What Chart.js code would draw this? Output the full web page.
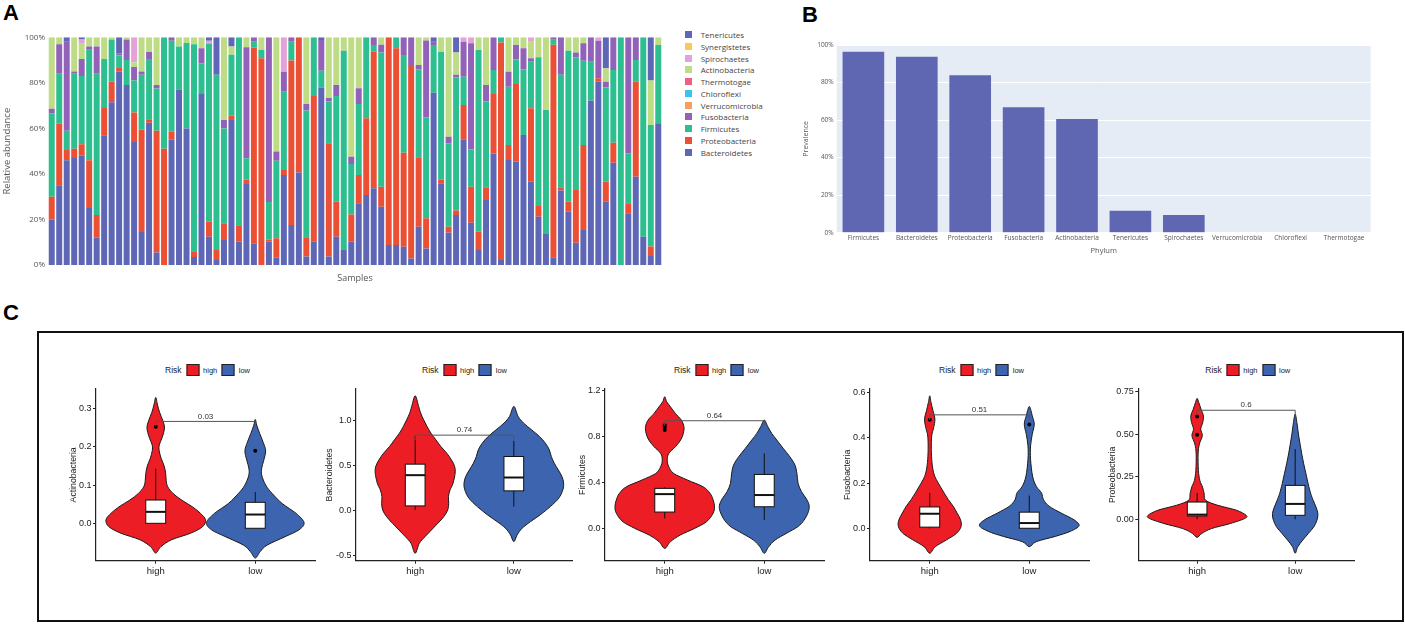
<!DOCTYPE html>
<html>
<head>
<meta charset="utf-8">
<script src="https://cdn.jsdelivr.net/npm/chart.js@4.4.1/dist/chart.umd.min.js"></script>
<style>
  html, body { margin: 0; padding: 0; background: #fff; }
  body { width: 1405px; height: 624px; position: relative; overflow: hidden; font-family: "Liberation Sans", Arial, sans-serif; }
  canvas { position: absolute; }
  .tag { position: absolute; font: bold 22px "Liberation Sans", Arial, sans-serif; line-height: 22px; color: #000; }
  .frame { position: absolute; left: 37px; top: 331px; width: 1367px; height: 291px; border: 2px solid #111; box-sizing: border-box; }
  .lgA { position: absolute; font: 8px "Open Sans", sans-serif; color: #444; white-space: nowrap; display: flex; align-items: center; }
  .lgA i { display: inline-block; width: 7px; height: 7px; margin-right: 9px; }
  .risk { position: absolute; display: flex; align-items: center; transform: translate(-50%, -50%); white-space: nowrap; color: #222; }
  .risk b { font-weight: normal; font-size: 8.5px; margin-right: 4.5px; color: #222; }
  .risk i { display: inline-block; width: 11px; height: 10px; border: 1px solid #222; margin-right: 4px; }
  .risk span { font-size: 7.5px; margin-right: 4.5px; color: #222; }
</style>
</head>
<body>
<div class="tag" style="left:3px;top:2px">A</div>
<div class="tag" style="left:802px;top:4px">B</div>
<div class="tag" style="left:3px;top:302px">C</div>
<div class="frame"></div>
<canvas id="chartA"></canvas>
<canvas id="chartB"></canvas>
<canvas id="c0"></canvas>
<canvas id="c1"></canvas>
<canvas id="c2"></canvas>
<canvas id="c3"></canvas>
<canvas id="c4"></canvas>
<script>
// ---- panel A: relative abundance per sample (%) ----
const bacteroidetes = [20,35,46,47,48,25,12,57,71.5,85,79,54,14.5,62.5,5.5,0,55,77,60,3.5,75.4,12.4,2.2,11,63.7,10.2,35.6,9.5,0,10.2,3.2,39.5,17.6,40.6,3.7,10.2,78,3.7,12.4,6.6,10.2,27.1,30.7,33.7,25.6,8.8,8.8,8,2.9,16.8,7.3,75.7,35.9,14.3,22,55.2,18.6,6.6,28.6,49,2.2,46.1,45.4,57.1,36.6,21.2,13.6,3.4,32.7,23.4,9.8,15.4,72.2,80.5,27.8,44.9,0,22.7,38.8,12.4,4,62.2];
const proteobacteria = [10,27,4.5,4,5,21,10,12,9,1.5,0,13,45,1.5,53.5,51,3.5,0,0,2.5,0,6.6,4.4,7.3,1.8,7.3,1.8,86,90.8,1,8.5,2.2,72.2,59.4,8.5,64,0,49.8,15.4,0,12,12.4,33.7,60,8.8,91.2,86.4,41.3,84.9,30.5,13.2,0,1.5,2.5,1.9,15.1,15.8,8,5.6,26.1,95.5,6.6,34.1,0,32.2,4.7,0,93.3,1.5,4.4,23.1,37.3,0,1.5,8.8,8.8,0,4.4,41.7,0,4.1,0];
const firmicutes = [36.6,22,8.5,33,30,48.5,62,21.5,18.5,5.5,11,14,24,26.5,18.5,49,40,19,37.5,91,13.2,78.3,77,41.7,26.8,82.5,9.5,2.5,3.7,16.5,34.1,34.4,8.3,0,55.6,25.8,7.3,18.3,46.4,87.5,22.1,31.2,35.6,2.9,58.9,0,4.8,42.9,0,38.6,44.4,20.9,56.3,36.6,58.4,12.4,16.4,79.8,37.6,10.5,2.3,25.6,10.8,28.9,20.5,65.3,54.5,2.2,49.3,66.3,58.3,37,17.1,0,41.4,31.9,100,22,9.5,87.6,53.4,34.4];
const fusobacteria = [2,13,39,1,7.5,1.5,12,0,0,1,9,6,1.5,3,1.5,0,1.5,0,0,0,6.6,0,0,3.7,0,0,48.7,2,0,72.3,4,8.8,1.9,0,2.9,0,13.5,1.5,4.8,0,3.2,6.9,0,3.4,3.4,0,0,7.8,12.2,1.9,33.7,1.5,0,2.9,1.2,15.4,46.6,0,7.3,14.4,0,6.6,6.3,9.2,1.5,0,0,1.1,16.5,0,2.1,7.7,10.7,16.5,2.5,14.4,0,50.9,10,0,0,0];
const actinobacteria = [31.4,3,0,15,7,4,4,9.5,1,0,1,2,15,6.5,21,0,0,4,2.5,3,4.8,0,0,36.3,3.7,0,4.4,0,5.5,0,50.2,0,0,0,29.3,0,0,26.7,21,5.9,52.4,22.4,0,0,3.3,0,0,0,0,12.2,1.4,0,6.3,43.7,9.8,0,0,5.6,20.9,0,0,15.1,3.4,4.8,7.3,8.8,31.9,0,0,5.9,6.7,2.6,0,0,5.9,0,0,0,0,0,19.5,3.4];
const spirochaetes = [0,0,0,0,1.5,0,0,0,0,0,0,11,0,0,0,0,0,0,0,0,0,1.2,0,0,0,0,0,0,0,0,0,15.1,0,0,0,0,0,0,0,0,0,0,0,0,0,0,0,0,0,0,0,0,0,0,0,1.9,2.6,0,0,0,0,0,0,0,1.9,0,0,0,0,0,0,0,0,1.5,0,0,0,0,0,0,0,0];
const tenericutes = [0,0,2,0,1,0,0,0,0,7,0,0,0,0,0,0,0,0,0,0,0,1.5,16.4,0,4,0,0,0,0,0,0,0,0,0,0,0,1.2,0,0,0,0,0,0,0,0,0,0,0,0,0,0,1.9,0,0,6.7,0,0,0,0,0,0,0,0,0,0,0,0,0,0,0,0,0,0,0,13.6,0,0,0,0,0,19,0];
const verrucomicrobia = [];
const chloroflexi = [];
const thermotogae = [];
const synergistetes = [];
const abundanceTicks = [0, 20, 40, 60, 80, 100];

// ---- panel B: prevalence per phylum (%) ----
const phylumNames = ['Firmicutes','Bacteroidetes','Proteobacteria','Fusobacteria','Actinobacteria','Tenericutes','Spirochaetes','Verrucomicrobia','Chloroflexi','Thermotogae'];
const prevalence = [96.4, 93.7, 83.9, 66.8, 60.6, 11.7, 9.4, 0, 0, 0];
const prevalenceTicks = [0, 20, 40, 60, 80, 100];

// ---- panel C: violin outlines as [value, half width in category units] ----
const actinoHigh = [[-0.078,0],[-0.061,0.053],[-0.043,0.16],[-0.026,0.35],[-0.009,0.47],[0.009,0.5],[0.026,0.45],[0.043,0.37],[0.061,0.26],[0.078,0.175],[0.096,0.12],[0.113,0.105],[0.13,0.1],[0.15,0.085],[0.17,0.055],[0.19,0.035],[0.205,0.035],[0.225,0.065],[0.25,0.088],[0.27,0.07],[0.29,0.04],[0.31,0.018],[0.33,0]];
const actinoLow = [[-0.091,0],[-0.074,0.05],[-0.057,0.12],[-0.035,0.3],[-0.017,0.44],[0.002,0.49],[0.026,0.41],[0.052,0.27],[0.078,0.17],[0.1,0.105],[0.126,0.065],[0.145,0.065],[0.165,0.085],[0.19,0.104],[0.212,0.08],[0.235,0.045],[0.257,0.015],[0.272,0]];
const bacteroHigh = [[-0.474,0],[-0.363,0.042],[-0.289,0.1],[-0.215,0.165],[-0.141,0.23],[-0.067,0.29],[0.007,0.33],[0.081,0.34],[0.156,0.337],[0.23,0.354],[0.304,0.384],[0.415,0.405],[0.489,0.4],[0.563,0.367],[0.637,0.32],[0.711,0.26],[0.785,0.21],[0.859,0.16],[0.933,0.12],[1.007,0.086],[1.081,0.056],[1.156,0.035],[1.274,0]];
const bacteroLow = [[-0.344,0],[-0.27,0.034],[-0.196,0.084],[-0.122,0.17],[-0.048,0.266],[0.044,0.37],[0.137,0.455],[0.23,0.497],[0.304,0.505],[0.378,0.488],[0.452,0.45],[0.526,0.41],[0.6,0.38],[0.674,0.36],[0.748,0.32],[0.822,0.26],[0.896,0.18],[0.97,0.1],[1.044,0.044],[1.156,0]];
const firmiHigh = [[-0.171,0],[-0.113,0.057],[-0.055,0.156],[0.003,0.3],[0.061,0.42],[0.133,0.485],[0.191,0.5],[0.249,0.487],[0.307,0.456],[0.365,0.385],[0.423,0.23],[0.481,0.09],[0.539,0.041],[0.597,0.025],[0.655,0.041],[0.713,0.107],[0.771,0.16],[0.829,0.187],[0.887,0.193],[0.945,0.167],[1.003,0.107],[1.061,0.057],[1.104,0.02],[1.148,0]];
const firmiLow = [[-0.214,0],[-0.157,0.044],[-0.099,0.108],[-0.041,0.22],[0.017,0.336],[0.075,0.4],[0.148,0.443],[0.206,0.45],[0.264,0.42],[0.322,0.374],[0.394,0.34],[0.481,0.328],[0.554,0.308],[0.626,0.257],[0.699,0.19],[0.771,0.126],[0.829,0.075],[0.887,0.036],[0.945,0]];
const fusoHigh = [[-0.109,0],[-0.08,0.057],[-0.05,0.17],[-0.021,0.27],[0.009,0.315],[0.038,0.31],[0.068,0.275],[0.098,0.236],[0.127,0.187],[0.157,0.144],[0.186,0.105],[0.216,0.066],[0.245,0.04],[0.29,0.023],[0.349,0.016],[0.408,0.02],[0.445,0.04],[0.482,0.052],[0.519,0.033],[0.556,0.013],[0.585,0]];
const fusoLow = [[-0.08,0],[-0.058,0.07],[-0.035,0.26],[-0.013,0.41],[0.012,0.5],[0.038,0.45],[0.068,0.32],[0.098,0.2],[0.127,0.143],[0.157,0.123],[0.186,0.07],[0.231,0.033],[0.305,0.013],[0.364,0.013],[0.415,0.03],[0.46,0.05],[0.497,0.03],[0.526,0.013],[0.538,0]];
const proteoHigh = [[-0.107,0],[-0.084,0.047],[-0.055,0.147],[-0.025,0.34],[0.004,0.485],[0.023,0.5],[0.053,0.4],[0.082,0.21],[0.111,0.087],[0.15,0.072],[0.189,0.055],[0.228,0.028],[0.287,0.013],[0.384,0.01],[0.442,0.023],[0.491,0.053],[0.53,0.037],[0.569,0.057],[0.608,0.064],[0.647,0.04],[0.686,0.017],[0.711,0]];
const proteoLow = [[-0.2,0],[-0.162,0.027],[-0.123,0.077],[-0.084,0.134],[-0.045,0.19],[-0.006,0.222],[0.033,0.232],[0.072,0.212],[0.111,0.184],[0.15,0.159],[0.209,0.132],[0.267,0.11],[0.326,0.087],[0.384,0.067],[0.442,0.05],[0.501,0.033],[0.559,0.02],[0.618,0]];

const violinTaxa = ['Actinobacteria','Bacteroidetes','Firmicutes','Fusobacteria','Proteobacteria'];
const riskGroups = ['high', 'low'];
// [lower whisker, q1, median, q3, upper whisker]
const boxHigh = [[0,0,0.03,0.061,0.143],[0.007,0.052,0.393,0.515,0.833],[0.09,0.145,0.301,0.351,0.36],[0,0.006,0.065,0.095,0.157],[0,0.019,0.027,0.101,0.154]];
const boxLow = [[-0.013,-0.013,0.023,0.055,0.082],[0.044,0.219,0.367,0.6,0.774],[0.075,0.191,0.293,0.472,0.655],[0.001,0.001,0.024,0.072,0.145],[0,0.023,0.09,0.199,0.413]];
const outliersHigh = [[0.253],[],[0.858,0.88,0.9],[0.479],[0.497,0.604]];
const outliersLow = [[0.19],[],[],[0.458],[]];
const pLevels = [0.267, 0.837, 0.939, 0.501, 0.641];
const pLabels = ['0.03', '0.74', '0.64', '0.51', '0.6'];
const yTicks = [[0,0.1,0.2,0.3],[-0.5,0,0.5,1],[0,0.4,0.8,1.2],[0,0.2,0.4,0.6],[0,0.25,0.5,0.75]];
const yTickLabels = [['0.0','0.1','0.2','0.3'],['-0.5','0.0','0.5','1.0'],['0.0','0.4','0.8','1.2'],['0.0','0.2','0.4','0.6'],['0.00','0.25','0.50','0.75']];
const yRanges = [[-0.098,0.352],[-0.556,1.349],[-0.278,1.215],[-0.142,0.615],[-0.244,0.766]];

const violins = [[actinoHigh, actinoLow], [bacteroHigh, bacteroLow], [firmiHigh, firmiLow], [fusoHigh, fusoLow], [proteoHigh, proteoLow]];

// layout of the five violin panels (page px)
const cLayout = [
  { left: 96, right: 319, titleX: 73.3 },
  { left: 356, right: 573, titleX: 329.3 },
  { left: 605, right: 828, titleX: 582.3 },
  { left: 870, right: 1093, titleX: 847.3 },
  { left: 1138.3, right: 1357.3, titleX: 1112.3 }
];

const RED = '#EC1D25', BLUE = '#3C64AF';

// sizes the canvas so the chart area lands on the given page box
function place(canvas, area, axisLeft, bottomExtra) {
  const left = Math.floor(axisLeft), top = Math.floor(area.top - 10);
  const width = Math.ceil(area.right - left), height = Math.ceil(area.bottom + bottomExtra - top);
  canvas.width = width; canvas.height = height;
  canvas.style.left = left + 'px'; canvas.style.top = top + 'px';
  return {
    padding: { left: axisLeft - left, top: area.top - top, right: width - (area.right - left), bottom: 0 },
    yWidth: area.left - axisLeft,
    xHeight: height - (area.bottom - top)
  };
}

// ---------- A ----------
const stackSeries = [
  ['Bacteroidetes', bacteroidetes, '#5E66B6'],
  ['Proteobacteria', proteobacteria, '#EC5034'],
  ['Firmicutes', firmicutes, '#2EBF90'],
  ['Fusobacteria', fusobacteria, '#9162B8'],
  ['Verrucomicrobia', verrucomicrobia, '#F6A05C'],
  ['Chloroflexi', chloroflexi, '#36C5EE'],
  ['Thermotogae', thermotogae, '#EE5E88'],
  ['Actinobacteria', actinobacteria, '#BDDC85'],
  ['Spirochaetes', spirochaetes, '#E3A3D8'],
  ['Synergistetes', synergistetes, '#F9CB55'],
  ['Tenericutes', tenericutes, '#5E66B6']
];
const sampleLabels = bacteroidetes.map((_, i) => 'Sample ' + (i + 1));
const totals = sampleLabels.map((_, i) => stackSeries.reduce((s, r) => s + (r[1][i] || 0), 0));

const geoA = place(document.getElementById('chartA'), { left: 48, right: 662, top: 37.3, bottom: 265 }, 1.6, 19);
new Chart(document.getElementById('chartA'), {
  type: 'bar',
  data: {
    labels: sampleLabels,
    datasets: stackSeries.map(([name, vals, color]) => ({
      label: name,
      data: vals.map((v, i) => v / totals[i] * 100),
      backgroundColor: color,
      borderWidth: 0,
      barPercentage: 0.8,
      categoryPercentage: 1
    }))
  },
  options: {
    responsive: false, animation: false, events: [],
    layout: { padding: geoA.padding },
    plugins: { legend: { display: false }, tooltip: { enabled: false } },
    scales: {
      x: {
        stacked: true,
        ticks: { display: false },
        grid: { display: false, drawTicks: false },
        border: { display: false },
        title: { display: true, text: 'Samples', color: '#555', padding: 0, font: { family: 'Open Sans', size: 9 } },
        afterFit: s => { s.height = geoA.xHeight; }
      },
      y: {
        stacked: true, min: 0, max: 100,
        afterBuildTicks: s => { s.ticks = abundanceTicks.map(value => ({ value })); },
        ticks: { callback: v => v + '%', color: '#555', padding: 3, font: { family: 'Open Sans', size: 8 } },
        grid: { display: false, drawTicks: false },
        border: { display: false },
        title: { display: true, text: 'Relative abundance', color: '#555', padding: 0, font: { family: 'Open Sans', size: 9.5 } },
        afterFit: s => { s.width = geoA.yWidth; }
      }
    }
  }
});

// legend for A, top entry = top of the stack
stackSeries.slice().reverse().forEach(([name, , color], k) => {
  const d = document.createElement('div');
  d.className = 'lgA';
  d.style.left = '684.7px';
  d.style.top = (34.7 + 11.73 * k - 6) + 'px';
  d.style.height = '12px';
  d.innerHTML = '<i style="background:' + color + '"></i>' + name;
  document.body.appendChild(d);
});

// ---------- B ----------
const plotBg = {
  id: 'plotBg',
  beforeDraw(chart) {
    const { ctx, chartArea: a } = chart;
    ctx.save(); ctx.fillStyle = '#E5ECF6';
    ctx.fillRect(a.left, a.top, a.right - a.left, a.bottom - a.top);
    ctx.restore();
  }
};
const geoB = place(document.getElementById('chartB'), { left: 836.7, right: 1370.7, top: 45, bottom: 232.7 }, 801.3, 22);
new Chart(document.getElementById('chartB'), {
  type: 'bar',
  data: {
    labels: phylumNames,
    datasets: [{ label: 'Prevalence', data: prevalence, backgroundColor: '#5F67B3', borderWidth: 0, barPercentage: 0.78, categoryPercentage: 1 }]
  },
  plugins: [plotBg],
  options: {
    responsive: false, animation: false, events: [],
    layout: { padding: geoB.padding },
    plugins: { legend: { display: false }, tooltip: { enabled: false } },
    scales: {
      x: {
        ticks: { color: '#555', padding: 2, maxRotation: 0, autoSkip: false, font: { family: 'Open Sans', size: 6.5 } },
        grid: { display: false, drawTicks: false },
        border: { display: false },
        title: { display: true, text: 'Phylum', color: '#555', padding: 0, font: { family: 'Open Sans', size: 7.5 } },
        afterFit: s => { s.height = geoB.xHeight; }
      },
      y: {
        min: 0, max: 100,
        afterBuildTicks: s => { s.ticks = prevalenceTicks.map(value => ({ value })); },
        ticks: { callback: v => v + '%', color: '#555', padding: 3, font: { family: 'Open Sans', size: 6.5 } },
        grid: { color: '#ffffff', lineWidth: 1, drawTicks: false },
        border: { display: false },
        title: { display: true, text: 'Prevalence', color: '#555', padding: 0, font: { family: 'Open Sans', size: 7 } },
        afterFit: s => { s.width = geoB.yWidth; }
      }
    }
  }
});

// ---------- C ----------
function smoothClosed(ctx, pts) {
  const n = pts.length;
  ctx.moveTo(pts[0][0], pts[0][1]);
  for (let i = 0; i < n; i++) {
    const p0 = pts[(i - 1 + n) % n], p1 = pts[i], p2 = pts[(i + 1) % n], p3 = pts[(i + 2) % n];
    ctx.bezierCurveTo(
      p1[0] + (p2[0] - p0[0]) / 6, p1[1] + (p2[1] - p0[1]) / 6,
      p2[0] - (p3[0] - p1[0]) / 6, p2[1] - (p3[1] - p1[1]) / 6,
      p2[0], p2[1]);
  }
  ctx.closePath();
}

function violinLayer(k) {
  const [high, low] = violins[k];
  return {
    id: 'violin' + k,
    beforeDatasetsDraw(chart) {
      const { ctx, scales: { x, y } } = chart;
      ctx.save();
      [[1, high, RED], [2, low, BLUE]].forEach(([c, prof, col]) => {
        const right = prof.map(([v, w]) => [x.getPixelForValue(c + w), y.getPixelForValue(v)]);
        const left = prof.slice(1, -1).reverse().map(([v, w]) => [x.getPixelForValue(c - w), y.getPixelForValue(v)]);
        ctx.beginPath();
        smoothClosed(ctx, right.concat(left));
        ctx.fillStyle = col; ctx.fill();
        ctx.lineWidth = 1; ctx.strokeStyle = '#1a1a1a'; ctx.stroke();
      });
      [[1, boxHigh[k]], [2, boxLow[k]]].forEach(([c, b]) => {
        const [lo, q1, med, q3, hi] = b;
        const xc = x.getPixelForValue(c), xl = x.getPixelForValue(c - 0.1), xr = x.getPixelForValue(c + 0.1);
        const yt = y.getPixelForValue(q3), yb = y.getPixelForValue(q1), ym = y.getPixelForValue(med);
        ctx.strokeStyle = '#111'; ctx.lineWidth = 1;
        ctx.beginPath();
        ctx.moveTo(xc, yt); ctx.lineTo(xc, y.getPixelForValue(hi));
        ctx.moveTo(xc, yb); ctx.lineTo(xc, y.getPixelForValue(lo));
        ctx.stroke();
        ctx.fillStyle = '#fff';
        ctx.fillRect(xl, yt, xr - xl, yb - yt);
        ctx.strokeRect(xl, yt, xr - xl, yb - yt);
        ctx.lineWidth = 2;
        ctx.beginPath(); ctx.moveTo(xl, ym); ctx.lineTo(xr, ym); ctx.stroke();
      });
      ctx.restore();
    },
    afterDatasetsDraw(chart) {
      const { ctx, scales: { x, y } } = chart;
      const tip = 0.03 * (yRanges[k][1] - yRanges[k][0]);
      const yb = y.getPixelForValue(pLevels[k]), yt = y.getPixelForValue(pLevels[k] - tip);
      const x1 = x.getPixelForValue(1), x2 = x.getPixelForValue(2);
      ctx.save();
      ctx.strokeStyle = '#555'; ctx.lineWidth = 1;
      ctx.beginPath();
      ctx.moveTo(x1, yt); ctx.lineTo(x1, yb); ctx.lineTo(x2, yb); ctx.lineTo(x2, yt);
      ctx.stroke();
      ctx.fillStyle = '#333';
      ctx.font = '8px "Liberation Sans", Arial, sans-serif';
      ctx.textAlign = 'center'; ctx.textBaseline = 'bottom';
      ctx.fillText(pLabels[k], x.getPixelForValue(1.5), yb - 1);
      ctx.restore();
    }
  };
}

violinTaxa.forEach((taxon, k) => {
  const lay = cLayout[k];
  const cv = document.getElementById('c' + k);
  const geo = place(cv, { left: lay.left, right: lay.right, top: 389, bottom: 560.7 }, lay.titleX - 5.22, 20);
  const points = outliersHigh[k].map(v => ({ x: 1, y: v })).concat(outliersLow[k].map(v => ({ x: 2, y: v })));
  new Chart(cv, {
    type: 'scatter',
    data: { datasets: [{ data: points, pointRadius: 2, pointBackgroundColor: '#000', pointBorderWidth: 0 }] },
    plugins: [violinLayer(k)],
    options: {
      responsive: false, animation: false, events: [],
      layout: { padding: geo.padding },
      plugins: { legend: { display: false }, tooltip: { enabled: false } },
      scales: {
        x: {
          type: 'linear', min: 0.4, max: 2.6,
          afterBuildTicks: s => { s.ticks = [{ value: 1 }, { value: 2 }]; },
          ticks: { callback: v => riskGroups[Math.round(v) - 1], color: '#222', padding: 1.5, maxRotation: 0, autoSkip: false, font: { family: 'Liberation Sans', size: 9.5 } },
          grid: { display: true, drawOnChartArea: false, drawTicks: true, tickLength: 3, color: '#222' },
          border: { display: true, color: '#222', width: 1.2 },
          afterFit: s => { s.height = geo.xHeight; }
        },
        y: {
          min: yRanges[k][0], max: yRanges[k][1],
          afterBuildTicks: s => { s.ticks = yTicks[k].map(value => ({ value })); },
          ticks: { callback: (v, i) => yTickLabels[k][i], color: '#222', padding: 1.5, autoSkip: false, font: { family: 'Liberation Sans', size: 9 } },
          grid: { display: true, drawOnChartArea: false, drawTicks: true, tickLength: 3, color: '#222' },
          border: { display: true, color: '#222', width: 1.2 },
          title: { display: true, text: taxon, color: '#222', padding: 0, font: { family: 'Liberation Sans', size: 8.7 } },
          afterFit: s => { s.width = geo.yWidth; }
        }
      }
    }
  });
  const lg = document.createElement('div');
  lg.className = 'risk';
  lg.style.left = ((lay.left + lay.right) / 2) + 'px';
  lg.style.top = '370px';
  lg.innerHTML = '<b>Risk</b><i style="background:' + RED + '"></i><span>' + riskGroups[0] +
    '</span><i style="background:' + BLUE + '"></i><span style="margin-right:0">' + riskGroups[1] + '</span>';
  document.body.appendChild(lg);
});
</script>
</body>
</html>
